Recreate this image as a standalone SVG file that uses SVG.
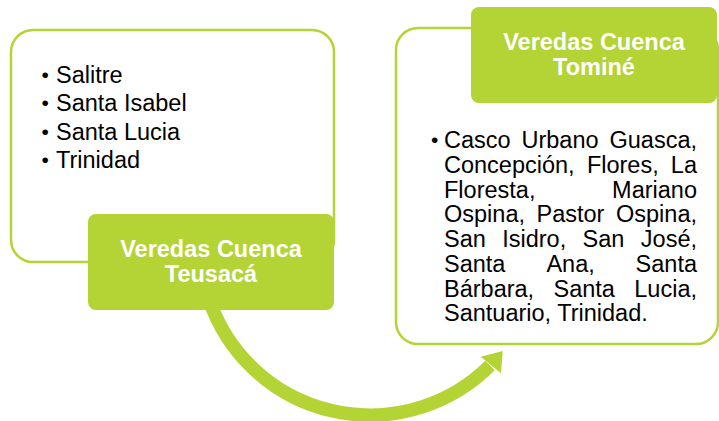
<svg xmlns="http://www.w3.org/2000/svg" width="719" height="421" viewBox="0 0 719 421">
<style>
.panel{fill:#ffffff;stroke:#b4d335;stroke-width:2.5}
.head{fill:#b4d335}
.t{font-family:"Liberation Sans",Arial,sans-serif;font-size:23.5px;fill:#000000}
.b{font-family:"Liberation Sans",Arial,sans-serif;font-size:21px;fill:#000000}
.h{font-family:"Liberation Sans",Arial,sans-serif;font-size:23.5px;font-weight:bold;fill:#ffffff;text-anchor:middle}
.e{text-anchor:end}
</style>
<rect width="719" height="421" fill="#ffffff"/>
<g id="connectors">
<path d="M 209.3 300 A 169.8 169.8 0 0 0 490 365.5" fill="none" stroke="#b4d335" stroke-width="13.5"/>
<polygon points="502.7,351 480.7,356.7 501,373.3" fill="#b4d335"/>
</g>
<g id="teusaca-list">
<rect class="panel" x="11" y="30" width="323" height="232" rx="22" ry="22"/>
<text class="b" x="41.6" y="81.5">•</text><text class="t" x="56" y="82.5">Salitre</text>
<text class="b" x="41.6" y="110">•</text><text class="t" x="56" y="111">Santa Isabel</text>
<text class="b" x="41.6" y="138.5">•</text><text class="t" x="56" y="139.5">Santa Lucia</text>
<text class="b" x="41.6" y="167">•</text><text class="t" x="56" y="168">Trinidad</text>
</g>
<g id="teusaca-title">
<rect class="head" x="88" y="214" width="246" height="96" rx="8" ry="8"/>
<text class="h" x="211" y="257">Veredas Cuenca</text>
<text class="h" x="211" y="282">Teusacá</text>
</g>
<g id="tomine-list">
<rect class="panel" x="396" y="28" width="322" height="316" rx="22" ry="22"/>
<text class="b" x="431" y="147.3">•</text>
<text class="t" x="444" y="148.3">Casco</text><text class="t" x="521.5" y="148.3">Urbano</text><text class="t e" x="697" y="148.3">Guasca,</text>
<text class="t" x="444" y="173">Concepción,</text><text class="t" x="586.9" y="173">Flores,</text><text class="t e" x="697" y="173">La</text>
<text class="t" x="444" y="197.7">Floresta,</text><text class="t e" x="697" y="197.7">Mariano</text>
<text class="t" x="444" y="222.4">Ospina,</text><text class="t" x="536.5" y="222.4">Pastor</text><text class="t e" x="697" y="222.4">Ospina,</text>
<text class="t" x="444" y="247.1">San</text><text class="t" x="502.2" y="247.1">Isidro,</text><text class="t" x="582.6" y="247.1">San</text><text class="t e" x="697" y="247.1">José,</text>
<text class="t" x="444" y="271.8">Santa</text><text class="t" x="546.4" y="271.8">Ana,</text><text class="t e" x="697" y="271.8">Santa</text>
<text class="t" x="444" y="296.5">Bárbara,</text><text class="t" x="553.5" y="296.5">Santa</text><text class="t e" x="697" y="296.5">Lucia,</text>
<text class="t" x="444" y="321.2">Santuario, Trinidad.</text>
</g>
<g id="tomine-title">
<rect class="head" x="471" y="7" width="246" height="96" rx="8" ry="8"/>
<text class="h" x="594" y="50">Veredas Cuenca</text>
<text class="h" x="594" y="75">Tominé</text>
</g>
</svg>
